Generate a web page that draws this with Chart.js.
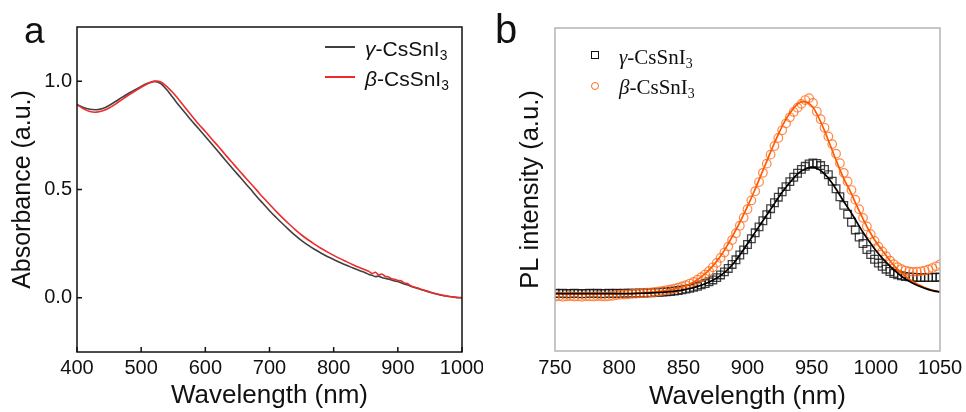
<!DOCTYPE html>
<html>
<head>
<meta charset="utf-8">
<script src="https://cdn.jsdelivr.net/npm/chart.js@4.4.0/dist/chart.umd.min.js"></script>
<style>
  body { margin: 0; background: #fff; }
  #wrap { position: relative; width: 966px; height: 412px; overflow: hidden; }
  canvas { position: absolute; top: 0; }
  .lbl { position: absolute; white-space: nowrap; color: #111; }
  .panel { font-family: "Liberation Sans", Arial, sans-serif; line-height: 1; }
  .legA { font-family: "Liberation Sans", Arial, sans-serif; font-size: 21px; line-height: 24px; }
  .legB { font-family: "Liberation Serif", "Times New Roman", serif; font-size: 21px; line-height: 24px; }
  .lbl sub { font-size: 0.66em; vertical-align: -0.28em; line-height: 0; }
  .swatch { position: absolute; }
</style>
</head>
<body>
<div id="wrap">
  <canvas id="chartA" width="483" height="412" style="left:0"></canvas>
  <canvas id="chartB" width="483" height="412" style="left:483px"></canvas>

  <div class="lbl panel" style="left:24px; top:12px; font-size:37px;">a</div>
  <div class="lbl panel" style="left:495px; top:9px; font-size:40px;">b</div>

  <div class="swatch" style="left:325px; top:46px; width:30px; height:2px; background:#404040;"></div>
  <div class="lbl legA" style="left:365px; top:37px;"><i>γ</i>-CsSnI<sub>3</sub></div>
  <div class="swatch" style="left:325px; top:76px; width:30px; height:2px; background:#ee2b2b;"></div>
  <div class="lbl legA" style="left:365px; top:67px;"><i>β</i>-CsSnI<sub>3</sub></div>

  <div class="swatch" style="left:591px; top:51px; width:6px; height:6px; border:1px solid #111;"></div>
  <div class="lbl legB" style="left:619px; top:45px;"><i>γ</i>-CsSnI<sub>3</sub></div>
  <div class="swatch" style="left:591px; top:82px; width:6px; height:6px; border:1px solid #ff6a1a; border-radius:50%;"></div>
  <div class="lbl legB" style="left:619px; top:75px;"><i>β</i>-CsSnI<sub>3</sub></div>
</div>
<script>
// absorbance spectra (panel a)
var absWavelength = [400, 410, 420, 430, 440, 450, 460, 470, 480, 490, 500, 510, 520, 530, 540, 550, 560, 570, 580, 590,
  600, 610, 620, 630, 640, 650, 660, 670, 680, 690, 700, 710, 720, 730, 740, 750, 760, 770, 780, 790,
  800, 810, 820, 830, 840, 850, 855, 860, 865, 870, 875, 880, 885, 890, 895, 900, 905, 910, 915, 920,
  930, 940, 950, 960, 970, 980, 990, 1000];
var absGamma = [0.892, 0.878, 0.870, 0.868, 0.874, 0.888, 0.906, 0.925, 0.943, 0.960, 0.976, 0.990, 0.999, 0.990, 0.960, 0.922, 0.884, 0.848, 0.813, 0.779,
  0.745, 0.710, 0.675, 0.640, 0.605, 0.571, 0.537, 0.503, 0.468, 0.435, 0.402, 0.372, 0.343, 0.315, 0.288, 0.264, 0.243, 0.224, 0.207, 0.191,
  0.177, 0.163, 0.150, 0.138, 0.126, 0.115, 0.108, 0.104, 0.098, 0.100, 0.094, 0.090, 0.087, 0.082, 0.078, 0.075, 0.070, 0.064, 0.060, 0.054,
  0.044, 0.035, 0.026, 0.018, 0.011, 0.006, 0.002, 0.000];
var absBeta = [0.892, 0.872, 0.860, 0.857, 0.863, 0.876, 0.894, 0.915, 0.935, 0.953, 0.972, 0.988, 0.999, 0.997, 0.975, 0.945, 0.910, 0.873, 0.836, 0.800,
  0.768, 0.733, 0.700, 0.665, 0.630, 0.597, 0.563, 0.530, 0.497, 0.463, 0.432, 0.400, 0.370, 0.342, 0.315, 0.290, 0.268, 0.248, 0.229, 0.212,
  0.196, 0.181, 0.167, 0.153, 0.140, 0.128, 0.122, 0.112, 0.118, 0.106, 0.110, 0.100, 0.097, 0.088, 0.086, 0.080, 0.079, 0.068, 0.066, 0.056,
  0.046, 0.036, 0.027, 0.019, 0.012, 0.006, 0.003, 0.001];
var absYTicks = [0, 0.5, 1.0];

// PL spectra (panel b): measured points
var plWavelength = [750, 753, 756, 759, 762, 765, 768, 771, 774, 777, 780, 783, 786, 789, 792, 795, 798, 801, 804, 807,
  810, 813, 816, 819, 822, 825, 828, 831, 834, 837, 840, 843, 846, 849, 852, 855, 858, 861, 864, 867,
  870, 873, 876, 879, 882, 885, 888, 891, 894, 897, 900, 903, 906, 909, 912, 915, 918, 921, 924, 927,
  930, 933, 936, 939, 942, 945, 948, 951, 954, 957, 960, 963, 966, 969, 972, 975, 978, 981, 984, 987,
  990, 993, 996, 999, 1002, 1005, 1008, 1011, 1014, 1017, 1020, 1023, 1026, 1029, 1032, 1035, 1038, 1041, 1044, 1047, 1050];
var plGamma = [0.001, 0.000, 0.001, -0.001, 0.000, 0.001, 0.000, -0.001, 0.000, 0.001, 0.000, 0.001, -0.001, 0.000, 0.001, 0.000, 0.001, 0.000, 0.002, 0.001,
  0.002, 0.001, 0.003, 0.002, 0.004, 0.004, 0.006, 0.006, 0.008, 0.009, 0.011, 0.013, 0.016, 0.019, 0.023, 0.027, 0.032, 0.038, 0.045, 0.052,
  0.061, 0.071, 0.083, 0.097, 0.113, 0.131, 0.152, 0.176, 0.201, 0.228, 0.256, 0.286, 0.317, 0.348, 0.380, 0.412, 0.443, 0.474, 0.503, 0.531,
  0.558, 0.584, 0.607, 0.628, 0.648, 0.664, 0.676, 0.682, 0.679, 0.668, 0.648, 0.620, 0.586, 0.547, 0.505, 0.460, 0.414, 0.372, 0.332, 0.295,
  0.261, 0.230, 0.203, 0.179, 0.159, 0.142, 0.127, 0.115, 0.105, 0.098, 0.093, 0.089, 0.087, 0.085, 0.084, 0.083, 0.084, 0.083, 0.085, 0.084, 0.086];
var plBeta = [-0.016, -0.014, -0.017, -0.015, -0.013, -0.016, -0.015, -0.017, -0.014, -0.015, -0.016, -0.013, -0.015, -0.016, -0.014, -0.012, -0.008, -0.006, -0.005, -0.004,
  -0.002, -0.001, 0.001, 0.002, 0.004, 0.006, 0.008, 0.011, 0.014, 0.017, 0.021, 0.026, 0.031, 0.037, 0.044, 0.052, 0.061, 0.072, 0.085, 0.100,
  0.117, 0.137, 0.160, 0.186, 0.214, 0.245, 0.279, 0.315, 0.354, 0.396, 0.440, 0.486, 0.534, 0.582, 0.630, 0.678, 0.725, 0.770, 0.812, 0.852,
  0.888, 0.920, 0.948, 0.970, 0.990, 1.010, 1.020, 0.995, 0.950, 0.910, 0.865, 0.820, 0.780, 0.730, 0.680, 0.630, 0.585, 0.540, 0.490, 0.440,
  0.395, 0.350, 0.310, 0.275, 0.245, 0.220, 0.195, 0.172, 0.153, 0.138, 0.127, 0.120, 0.115, 0.113, 0.114, 0.116, 0.120, 0.126, 0.133, 0.142, 0.152];

// PL spectra (panel b): fitted curves
var fitWavelength = [750, 755, 760, 765, 770, 775, 780, 785, 790, 795, 800, 805, 810, 815, 820, 825, 830, 835, 840, 845,
  850, 855, 860, 865, 870, 875, 880, 885, 890, 895, 900, 905, 910, 915, 920, 925, 930, 935, 940, 945,
  950, 955, 960, 965, 970, 975, 980, 985, 990, 995, 1000, 1005, 1010, 1015, 1020, 1025, 1030, 1035, 1040, 1045, 1050];
var fitGamma = [0, 0, 0, 0, 0, 0, 0, 0, 0, 0, 0, 0, 0, 0.001, 0.002, 0.003, 0.005, 0.007, 0.010, 0.014,
  0.019, 0.026, 0.035, 0.046, 0.060, 0.077, 0.099, 0.128, 0.165, 0.210, 0.260, 0.310, 0.360, 0.410, 0.460, 0.510, 0.555, 0.595, 0.630, 0.650,
  0.657, 0.650, 0.625, 0.585, 0.535, 0.480, 0.430, 0.375, 0.320, 0.270, 0.225, 0.185, 0.150, 0.118, 0.090, 0.068, 0.050, 0.035, 0.023, 0.014, 0.008];
var fitBeta = [0, 0, 0, 0, 0, 0, 0, 0, 0, 0, 0, 0, 0, 0.003, 0.005, 0.007, 0.010, 0.014, 0.019, 0.026,
  0.036, 0.050, 0.068, 0.092, 0.122, 0.160, 0.205, 0.260, 0.320, 0.385, 0.455, 0.530, 0.610, 0.690, 0.770, 0.845, 0.910, 0.960, 0.995, 1.000,
  0.980, 0.925, 0.850, 0.765, 0.680, 0.600, 0.535, 0.460, 0.390, 0.325, 0.270, 0.225, 0.180, 0.140, 0.108, 0.080, 0.058, 0.040, 0.026, 0.016, 0.010];

var sans = '"Liberation Sans", Arial, sans-serif';

function pairs(xs, ys) {
  return xs.map(function(x, i) { return { x: x, y: ys[i] }; });
}

function plainNumber(v) { return String(v); }

// fixed axis box; end labels may overhang the plot area
function fitX(h) {
  return function(s) { s.height = h; s.paddingLeft = 0; s.paddingRight = 0; };
}

// box around the plot area, optional inward ticks
function framePlugin(color, width, tickLen) {
  return {
    id: 'frame',
    afterDatasetsDraw: function(chart) {
      var ctx = chart.ctx, a = chart.chartArea;
      ctx.save();
      ctx.strokeStyle = color;
      ctx.lineWidth = width;
      if (tickLen) {
        ctx.beginPath();
        chart.scales.x.ticks.forEach(function(t) {
          var px = chart.scales.x.getPixelForValue(t.value);
          ctx.moveTo(px, a.bottom);
          ctx.lineTo(px, a.bottom - tickLen);
        });
        chart.scales.y.ticks.forEach(function(t) {
          var py = chart.scales.y.getPixelForValue(t.value);
          ctx.moveTo(a.left, py);
          ctx.lineTo(a.left + tickLen, py);
        });
        ctx.stroke();
      }
      ctx.strokeRect(a.left, a.top, a.right - a.left, a.bottom - a.top);
      ctx.restore();
    }
  };
}

new Chart(document.getElementById('chartA'), {
  type: 'line',
  data: {
    datasets: [
      { label: 'β-CsSnI3', data: pairs(absWavelength, absBeta), borderColor: '#ee2b2b', borderWidth: 1.6, pointRadius: 0, tension: 0.3 },
      { label: 'γ-CsSnI3', data: pairs(absWavelength, absGamma), borderColor: '#404040', borderWidth: 1.6, pointRadius: 0, tension: 0.3 }
    ]
  },
  options: {
    responsive: false,
    animation: false,
    layout: { padding: { top: 27, right: 21, left: 0, bottom: 0 } },
    plugins: { legend: { display: false }, tooltip: { enabled: false } },
    scales: {
      x: {
        type: 'linear', min: 400, max: 1000,
        ticks: { stepSize: 100, padding: 4, maxRotation: 0, color: '#111', font: { family: sans, size: 20 }, callback: plainNumber },
        grid: { display: false, drawTicks: false },
        border: { display: false },
        title: { display: true, text: 'Wavelength (nm)', color: '#111', font: { family: sans, size: 26 }, padding: { top: 0, bottom: 1 } },
        afterFit: fitX(60)
      },
      y: {
        type: 'linear', min: -0.25, max: 1.25,
        afterBuildTicks: function(s) { s.ticks = absYTicks.map(function(v) { return { value: v }; }); },
        ticks: { padding: 5, color: '#111', font: { family: sans, size: 20 }, callback: function(v) { return v.toFixed(1); } },
        grid: { display: false, drawTicks: false },
        border: { display: false },
        title: { display: true, text: 'Absorbance (a.u.)', color: '#111', font: { family: sans, size: 25 }, padding: { top: 8, bottom: 0 } },
        afterFit: function(s) { s.width = 77; }
      }
    }
  },
  plugins: [framePlugin('#111', 1.5, 5)]
});

new Chart(document.getElementById('chartB'), {
  type: 'line',
  data: {
    datasets: [
      { label: 'γ fit', data: pairs(fitWavelength, fitGamma), borderColor: '#000', borderWidth: 1.7, pointRadius: 0, tension: 0.4 },
      { label: 'β fit', data: pairs(fitWavelength, fitBeta), borderColor: '#ff5a00', borderWidth: 1.7, pointRadius: 0, tension: 0.4 },
      { label: 'β-CsSnI3', data: pairs(plWavelength, plBeta), showLine: false, pointStyle: 'circle', pointRadius: 4.3,
        pointBorderWidth: 1.2, pointBorderColor: 'rgba(255,106,26,0.8)', pointBackgroundColor: 'rgba(0,0,0,0)' },
      { label: 'γ-CsSnI3', data: pairs(plWavelength, plGamma), showLine: false, pointStyle: 'rect', pointRadius: 5.4,
        pointBorderWidth: 1.3, pointBorderColor: 'rgba(20,20,20,0.8)', pointBackgroundColor: 'rgba(0,0,0,0)' }
    ]
  },
  options: {
    responsive: false,
    animation: false,
    layout: { padding: { top: 28, right: 26, left: 0, bottom: 0 } },
    plugins: { legend: { display: false }, tooltip: { enabled: false } },
    scales: {
      x: {
        type: 'linear', min: 750, max: 1050,
        ticks: { stepSize: 50, padding: 5, maxRotation: 0, color: '#111', font: { family: sans, size: 20 }, callback: plainNumber },
        grid: { display: false, drawTicks: false },
        border: { display: false },
        title: { display: true, text: 'Wavelength (nm)', color: '#111', font: { family: sans, size: 26 }, padding: { top: 0, bottom: 0 } },
        afterFit: fitX(61)
      },
      y: {
        type: 'linear', min: -0.3, max: 1.386,
        ticks: { display: false },
        grid: { display: false, drawTicks: false },
        border: { display: false },
        title: { display: true, text: 'PL intensity (a.u.)', color: '#111', font: { family: sans, size: 25.5 }, padding: { top: 33, bottom: 0 } },
        afterFit: function(s) { s.width = 72; }
      }
    }
  },
  plugins: [framePlugin('#b4b4b4', 1.5, 0)]
});
</script>
</body>
</html>
